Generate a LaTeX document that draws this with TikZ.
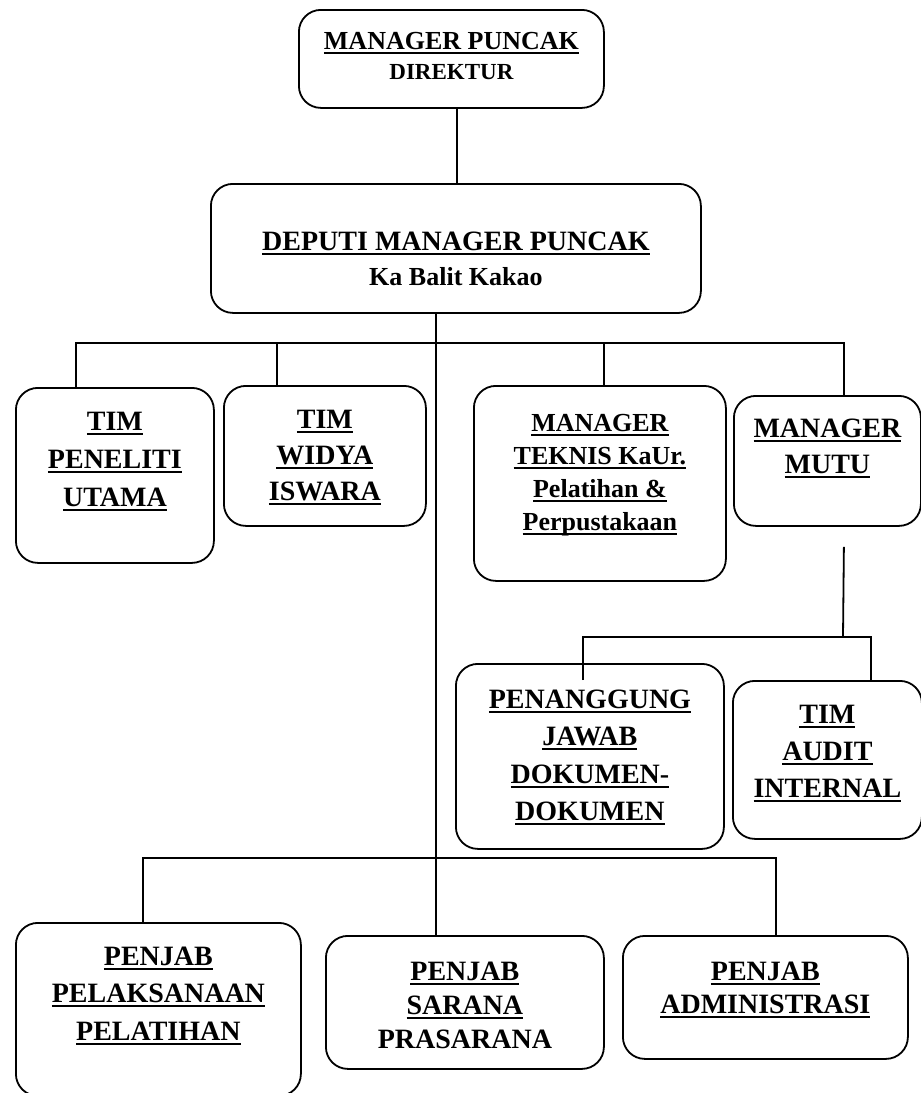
\documentclass[tikz,border=0pt]{standalone}
\usepackage{fontspec}
\setmainfont{Liberation Serif}
\usetikzlibrary{positioning}
\newcommand{\garis}[1]{\leavevmode\setbox0\hbox{#1}\rlap{\rule[-4.5pt]{\wd0}{2pt}}\box0}

\begin{document}
\begin{tikzpicture}[x=1pt,y=-1pt,line width=1.8pt,
                    kotak/.style={draw,rounded corners=22pt,anchor=north west,inner sep=0pt},
                    teks/.style={align=center,inner sep=0pt,font=\bfseries\fontsize{28}{37}\selectfont}]
      \useasboundingbox (0,0) rectangle (921,1093);

      % kotak
      \node[kotak, minimum width=305pt, minimum height=98pt]  (puncak)      at (298,9)   {};
      \node[kotak, minimum width=490pt, minimum height=129pt] (deputi)      at (210,183) {};
      \node[kotak, minimum width=198pt, minimum height=175pt] (peneliti)    at (15,387)  {};
      \node[kotak, minimum width=202pt, minimum height=140pt] (widya)       at (223,385) {};
      \node[kotak, minimum width=252pt, minimum height=195pt] (teknis)      at (473,385) {};
      \node[kotak, minimum width=187pt, minimum height=130pt] (mutu)        at (733,395) {};
      \node[kotak, minimum width=268pt, minimum height=185pt] (penanggung)  at (455,663) {};
      \node[kotak, minimum width=189pt, minimum height=158pt] (audit)       at (732,680) {};
      \node[kotak, minimum width=285pt, minimum height=173pt] (pelaksanaan) at (15,922)  {};
      \node[kotak, minimum width=278pt, minimum height=133pt] (sarana)      at (325,935) {};
      \node[kotak, minimum width=285pt, minimum height=123pt] (admin)       at (622,935) {};

      % teks
      \node[teks, font=\bfseries\fontsize{26}{30}\selectfont, below=22pt of puncak.north] (puncakT)
            {\garis{MANAGER PUNCAK}\\{\fontsize{23}{30}\selectfont DIREKTUR}};
      \node[teks, font=\bfseries\fontsize{28}{35}\selectfont, below=48pt of deputi.north] (deputiT)
            {\garis{DEPUTI MANAGER PUNCAK}\\{\fontsize{26}{35}\selectfont Ka Balit Kakao}};
      \node[teks, font=\bfseries\fontsize{28}{38}\selectfont, below=24pt of peneliti.north] (penelitiT)
            {\garis{TIM}\\\garis{PENELITI}\\\garis{UTAMA}};
      \node[teks, font=\bfseries\fontsize{28}{36}\selectfont, below=24pt of widya.north] (widyaT)
            {\garis{TIM}\\\garis{WIDYA}\\\garis{ISWARA}};
      \node[teks, font=\bfseries\fontsize{26}{33}\selectfont, below=28pt of teknis.north] (teknisT)
            {\garis{MANAGER}\\\garis{TEKNIS KaUr.}\\\garis{Pelatihan \&}\\\garis{Perpustakaan}};
      \node[teks, font=\bfseries\fontsize{28}{36}\selectfont, below=23pt of mutu.north] (mutuT)
            {\garis{MANAGER}\\\garis{MUTU}};
      \node[teks, font=\bfseries\fontsize{28}{37.5}\selectfont, below=26pt of penanggung.north] (penanggungT)
            {\garis{PENANGGUNG}\\\garis{JAWAB}\\\garis{DOKUMEN-}\\\garis{DOKUMEN}};
      \node[teks, below=24pt of audit.north] (auditT)
            {\garis{TIM}\\\garis{AUDIT}\\\garis{INTERNAL}};
      \node[teks, font=\bfseries\fontsize{28}{37.5}\selectfont, below=24pt of pelaksanaan.north] (pelaksanaanT)
            {\garis{PENJAB}\\\garis{PELAKSANAAN}\\\garis{PELATIHAN}};
      \node[teks, font=\bfseries\fontsize{28}{34}\selectfont, below=26pt of sarana.north] (saranaT)
            {\garis{PENJAB}\\\garis{SARANA}\\PRASARANA};
      \node[teks, font=\bfseries\fontsize{28}{33}\selectfont, below=26pt of admin.north] (adminT)
            {\garis{PENJAB}\\\garis{ADMINISTRASI}};

      % garis
      \coordinate (cabang) at (436,343);
      \coordinate (mutubar) at (843,637);
      \coordinate (bawah) at (436,858);

      \draw ([xshift=5.5pt]puncak.south) -- ++(0,76);
      \draw (cabang |- deputi.south) -- (cabang |- sarana.north);
      \draw ([xshift=-39pt]peneliti.north) |- (cabang) -| ([xshift=16.5pt]mutu.north);
      \draw ([xshift=-48pt]widya.north) |- (cabang);
      \draw ([xshift=4pt]teknis.north) |- (cabang);
      \draw ([xshift=16.5pt,yshift=-20pt]mutu.south) -- (mutubar);
      \draw ([xshift=-7pt,yshift=-17pt]penanggung.north) |- (mutubar) -| ([xshift=43.5pt]audit.north);
      \draw ([xshift=-15.5pt]pelaksanaan.north) |- (bawah) -| ([xshift=10.5pt]admin.north);
\end{tikzpicture}
\end{document}
